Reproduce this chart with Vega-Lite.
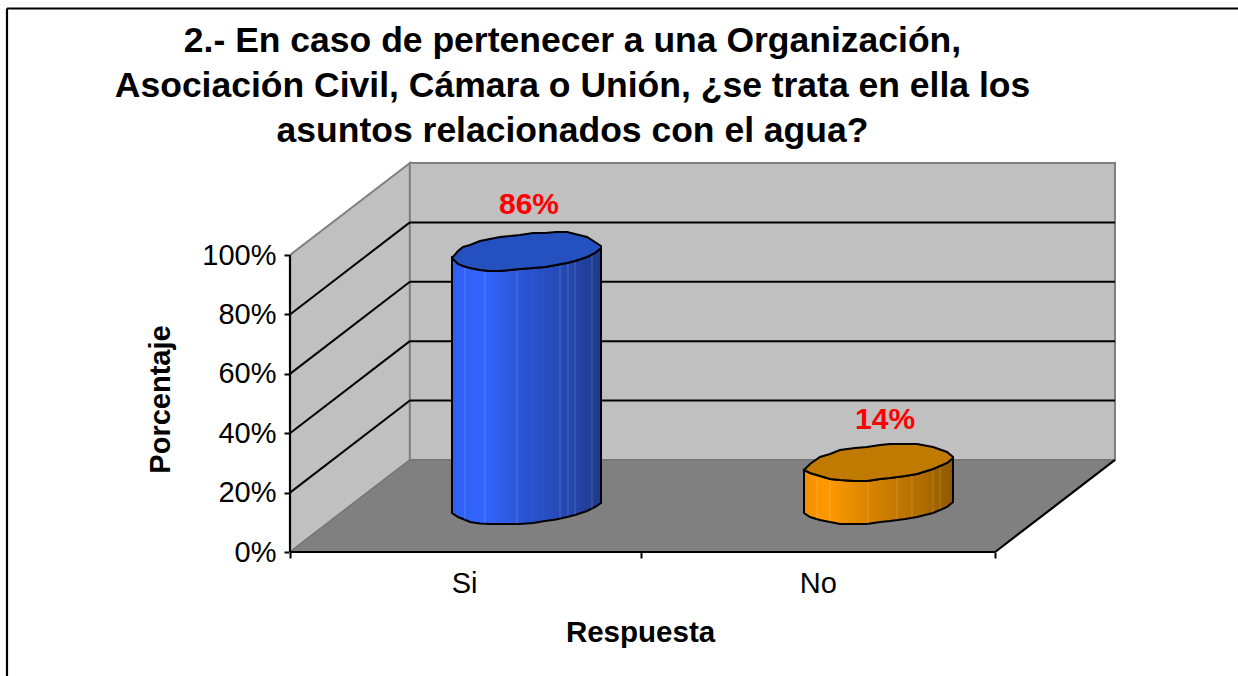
{
"$schema":"https://vega.github.io/schema/vega-lite/v6.json",
"width":825,"height":389,
"autosize":"none",
"padding":{"left":290,"top":163,"right":123,"bottom":124},
"background":"white",
"config":{"font":"Liberation Sans","view":{"stroke":null}},
"title":{"text":["2.- En caso de pertenecer a una Organización,","Asociación Civil, Cámara o Unión, ¿se trata en ella los","asuntos relacionados con el agua?"],"fontSize":35.5,"fontWeight":"bold","font":"Liberation Sans","color":"black","lineHeight":45,"anchor":"middle","dx":-130,"offset":12,"dy":154},
"datasets":{
"paredLateral":[{"x":0,"y":0,"y2":100},{"x":34,"y":31,"y2":131}],
"paredFondo":[{"x":34,"x2":234,"y":31,"y2":131}],
"piso":[{"x":0,"y":0,"y2":0},{"x":34,"y":0,"y2":31},{"x":200,"y":0,"y2":31},{"x":234,"y":31,"y2":31}],
"rejilla":[
{"x":34,"x2":234,"y":51,"y2":51},{"x":34,"x2":234,"y":71,"y2":71},{"x":34,"x2":234,"y":91,"y2":91},{"x":34,"x2":234,"y":111,"y2":111},
{"x":0,"x2":34,"y":20,"y2":51},{"x":0,"x2":34,"y":40,"y2":71},{"x":0,"x2":34,"y":60,"y2":91},{"x":0,"x2":34,"y":80,"y2":111}],
"bordes":[
{"x":0,"x2":0,"y":0,"y2":100},{"x":0,"x2":200,"y":0,"y2":0},{"x":200,"x2":234,"y":0,"y2":31},
{"x":-80.27,"x2":-80.27,"y":183.03,"y2":-41.76},{"x":-80.27,"x2":268.9,"y":183.03,"y2":183.03}],
"siCuerpo":[
{"x":45.95,"y":99.01,"y2":13.13},{"x":47.65,"y":96.98,"y2":11.79},{"x":49.07,"y":96.31,"y2":11.11},{"x":51.06,"y":95.64,"y2":10.10},{"x":53.89,"y":94.97,"y2":9.60},{"x":56.73,"y":94.63,"y2":9.43},{"x":59.56,"y":94.63,"y2":9.43},{"x":62.40,"y":94.97,"y2":9.43},{"x":65.24,"y":95.30,"y2":9.43},{"x":68.93,"y":95.64,"y2":9.77},{"x":72.33,"y":95.98,"y2":10.44},{"x":75.45,"y":96.65,"y2":10.94},{"x":78.57,"y":97.32,"y2":11.79},{"x":80.84,"y":98.00,"y2":12.46},{"x":84.24,"y":99.34,"y2":13.81},{"x":86.51,"y":100.69,"y2":15.15},{"x":88.21,"y":102.37,"y2":16.50}],
"siTapa":[
{"x":45.95,"y":99.01,"y2":99.01},{"x":47.65,"y":101.36,"y2":96.98},{"x":49.07,"y":102.71,"y2":96.31},{"x":51.06,"y":103.38,"y2":95.64},{"x":53.89,"y":104.73,"y2":94.97},{"x":56.73,"y":105.40,"y2":94.63},{"x":59.56,"y":106.08,"y2":94.63},{"x":62.40,"y":106.42,"y2":94.97},{"x":65.24,"y":106.75,"y2":95.30},{"x":68.93,"y":107.43,"y2":95.64},{"x":72.33,"y":107.43,"y2":95.98},{"x":75.45,"y":107.76,"y2":96.65},{"x":78.57,"y":107.76,"y2":97.32},{"x":80.84,"y":107.09,"y2":98.00},{"x":84.24,"y":106.08,"y2":99.34},{"x":86.51,"y":104.39,"y2":100.69},{"x":88.21,"y":103.05,"y2":102.37}],
"noCuerpo":[
{"x":145.79,"y":27.61,"y2":13.13},{"x":147.49,"y":26.60,"y2":11.79},{"x":150.33,"y":25.59,"y2":10.78},{"x":153.17,"y":24.58,"y2":10.10},{"x":156.00,"y":24.25,"y2":9.43},{"x":160.26,"y":23.91,"y2":9.43},{"x":163.66,"y":23.91,"y2":9.43},{"x":167.35,"y":24.58,"y2":10.10},{"x":170.18,"y":24.92,"y2":10.44},{"x":174.44,"y":25.59,"y2":11.11},{"x":177.84,"y":26.27,"y2":11.79},{"x":182.38,"y":27.95,"y2":13.13},{"x":186.35,"y":29.97,"y2":15.15},{"x":188.05,"y":31.66,"y2":16.84}],
"noTapa":[
{"x":145.79,"y":27.61,"y2":27.61},{"x":147.49,"y":29.63,"y2":26.60},{"x":150.33,"y":31.99,"y2":25.59},{"x":153.17,"y":33.00,"y2":24.58},{"x":156.00,"y":34.35,"y2":24.25},{"x":160.26,"y":35.02,"y2":23.91},{"x":163.66,"y":35.36,"y2":23.91},{"x":167.35,"y":36.03,"y2":24.58},{"x":170.18,"y":36.37,"y2":24.92},{"x":174.44,"y":36.37,"y2":25.59},{"x":177.84,"y":36.37,"y2":26.27},{"x":182.38,"y":35.36,"y2":27.95},{"x":186.35,"y":33.68,"y2":29.97},{"x":188.05,"y":31.99,"y2":31.66}],
"vetas":[
{"x":49.64,"y":96.1,"y2":10.8},{"x":55.31,"y":94.8,"y2":9.43},{"x":64.39,"y":95.3,"y2":9.43},{"x":76.58,"y":97,"y2":11.45},{"x":78.85,"y":97.5,"y2":11.95},{"x":80.84,"y":98,"y2":12.46},{"x":85.66,"y":100.02,"y2":14.48},
{"x":149.48,"y":25.93,"y2":10.78},{"x":153.17,"y":24.58,"y2":10.1},{"x":163.95,"y":24.25,"y2":9.43},{"x":172.17,"y":25.26,"y2":10.78},{"x":176.43,"y":25.93,"y2":11.45},{"x":182.38,"y":27.95,"y2":13.13},{"x":184.37,"y":28.96,"y2":14.14}],
"etiquetas":[{"respuesta":"Si","x":67.79,"y":116.8,"texto":"86%"},{"respuesta":"No","x":168.77,"y":44.5,"texto":"14%"}]
},
"encoding":{
"x":{"field":"x","type":"quantitative","scale":{"domain":[0,234],"nice":false,"zero":false},
 "axis":{"title":"Respuesta","values":[0,49.4,99.6,149.7,200],"labelExpr":"datum.value==49.4?'Si':datum.value==149.7?'No':''","grid":false,"domain":false,"tickColor":"black","tickSize":6,"tickWidth":2,"tickOpacity":{"condition":{"test":"datum.value == 0 || datum.value == 99.6 || datum.value == 200","value":1},"value":0},"labelFontSize":29,"labelColor":"black","labelPadding":11,"labelFlush":false,"labelOverlap":false,"labelBound":false,"titleFontSize":29.5,"titleFontWeight":"bold","titleColor":"black","titleX":350,"titleY":66,"titleAnchor":"middle","titleAlign":"center"}},
"y":{"field":"y","type":"quantitative","scale":{"domain":[0,131],"nice":false,"zero":false},
 "axis":{"title":"Porcentaje","values":[0,20,40,60,80,100],"labelExpr":"datum.value+'%'","grid":false,"domain":false,"tickColor":"black","tickSize":6,"tickWidth":2,"labelFontSize":29,"labelColor":"black","labelPadding":8,"labelFlush":false,"labelOverlap":false,"labelBound":false,"titleFontSize":29,"titleFontWeight":"bold","titleColor":"black","titleX":-115,"titleY":236,"titleAnchor":"middle","titleAlign":"center"}}
},
"layer":[
{"data":{"name":"paredLateral"},"mark":{"type":"area","color":"#c0c0c0","stroke":"#808080","strokeWidth":2},"encoding":{"y2":{"field":"y2"}}},
{"data":{"name":"paredFondo"},"mark":{"type":"rect","color":"#c0c0c0","stroke":"#808080","strokeWidth":2},"encoding":{"x2":{"field":"x2"},"y2":{"field":"y2"}}},
{"data":{"name":"piso"},"mark":{"type":"area","color":"#808080","stroke":"#707070","strokeWidth":1},"encoding":{"y2":{"field":"y2"}}},
{"data":{"name":"rejilla"},"mark":{"type":"rule","color":"black","strokeWidth":2},"encoding":{"x2":{"field":"x2"},"y2":{"field":"y2"}}},
{"data":{"name":"bordes"},"mark":{"type":"rule","color":"black","strokeWidth":2.2},"encoding":{"x2":{"field":"x2"},"y2":{"field":"y2"}}},
{"data":{"name":"siCuerpo"},"mark":{"type":"area","stroke":"black","strokeWidth":2,"color":{"gradient":"linear","x1":0,"x2":1,"y1":0,"y2":0,"stops":[{"offset":0,"color":"#2f5ff0"},{"offset":0.2,"color":"#3366ff"},{"offset":0.5,"color":"#2a54d0"},{"offset":0.8,"color":"#2447ae"},{"offset":1,"color":"#1f3a8c"}]}},"encoding":{"y2":{"field":"y2"}}},
{"data":{"name":"noCuerpo"},"mark":{"type":"area","stroke":"black","strokeWidth":2,"color":{"gradient":"linear","x1":0,"x2":1,"y1":0,"y2":0,"stops":[{"offset":0,"color":"#f09000"},{"offset":0.15,"color":"#ff9900"},{"offset":0.5,"color":"#d08000"},{"offset":0.8,"color":"#b06c00"},{"offset":1,"color":"#8f5800"}]}},"encoding":{"y2":{"field":"y2"}}},
{"data":{"name":"vetas"},"mark":{"type":"rule","color":"white","opacity":0.18,"strokeWidth":1},"encoding":{"y2":{"field":"y2"}}},
{"data":{"name":"siTapa"},"mark":{"type":"area","color":"#2550bf","stroke":"black","strokeWidth":2},"encoding":{"y2":{"field":"y2"}}},
{"data":{"name":"noTapa"},"mark":{"type":"area","color":"#c07a00","stroke":"black","strokeWidth":2},"encoding":{"y2":{"field":"y2"}}},
{"data":{"name":"etiquetas"},"mark":{"type":"text","color":"#ff0000","fontSize":30,"fontWeight":"bold","align":"center","baseline":"middle"},"encoding":{"text":{"field":"texto"}}}
]
}
